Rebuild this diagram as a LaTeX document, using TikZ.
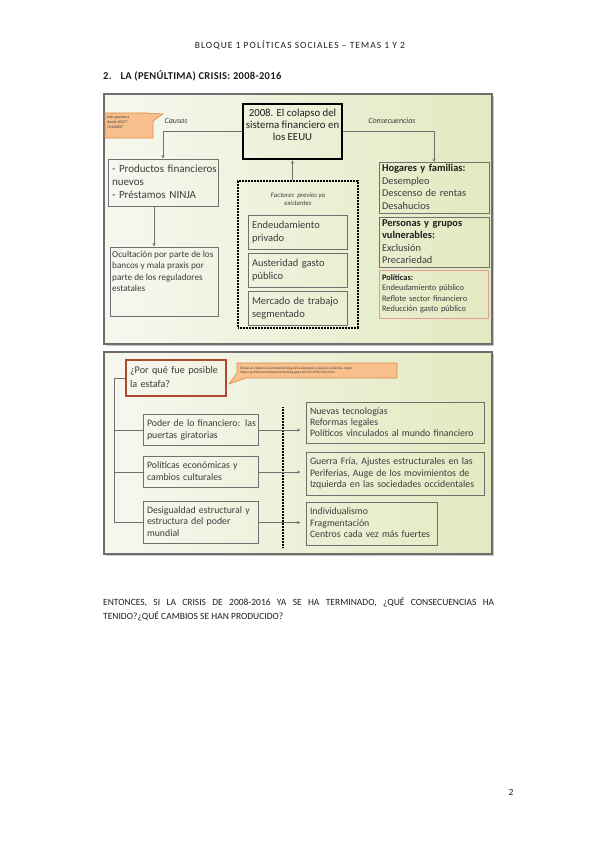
\documentclass[tikz,border=0pt]{standalone}
\usepackage{fontspec}
\setmainfont{Carlito}
\usetikzlibrary{arrows.meta,calc}
\definecolor{bgL}{HTML}{F6F8F0}
\definecolor{bgR}{HTML}{E3E9C0}
\definecolor{frameC}{HTML}{6E6E6E}
\definecolor{boxC}{HTML}{707070}
\definecolor{txt}{HTML}{3C3C3C}
\definecolor{hd}{HTML}{1E1E1E}
\definecolor{orfill}{HTML}{F7C08C}
\definecolor{ordraw}{HTML}{D98A4A}
\definecolor{redC}{HTML}{B4482F}
\definecolor{salmon}{HTML}{DE9E94}
\newcommand{\rows}[1]{\begin{tabular}{@{}l@{}}#1\end{tabular}}
\tikzset{
  tbox/.style={draw=boxC, line width=0.9pt, inner sep=4pt, align=left, text=txt},
  arr/.style={draw=boxC, line width=0.8pt, -{Stealth[length=3.5pt,width=3pt]}},
  ln/.style={draw=boxC, line width=0.8pt},
  lbl/.style={text=txt, font=\fontsize{8}{9}\selectfont\itshape},
  dotline/.style={draw=black, line width=1.5pt, dash pattern=on 0.6pt off 0.9pt},
}
\begin{document}
\begin{tikzpicture}[x=1pt,y=-1pt]
\useasboundingbox (0,0) rectangle (599,848);
\fill[white] (0,0) rectangle (599,848);

% header
\node[text=hd, font=\fontsize{9.5}{11}\selectfont\addfontfeatures{LetterSpace=11}] (hdr) at (300,45) {BLOQUE 1 POLÍTICAS SOCIALES – TEMAS 1 Y 2};
\node[anchor=base west, inner sep=0pt, text=hd, font=\fontsize{10.5}{11}\selectfont\bfseries\addfontfeatures{LetterSpace=3}] (tit) at (103,80) {2.\hspace{9pt}LA (PENÚLTIMA) CRISIS: 2008-2016};

% ===== diagram 1 =====
\fill[gray!45] (106,96) rectangle (494,346);
\shade[left color=bgL, right color=bgR] (104,94) rectangle (492,344);
\draw[frameC, line width=1.1pt] (104,94) rectangle (492,344);

% callout 1
\path[fill=orfill, draw=ordraw, line width=0.6pt] (105,113) -- (146,113) -- (163,114) -- (153,121) -- (153,138) -- (105,138) -- cycle;
\node[anchor=north west, inner sep=0pt, align=left, text=txt, font=\fontsize{4}{5}\selectfont] (c1t) at (107,116) {más \textit{gracias a}\\\textit{desde 2007}”:\\/4402847};

\node[tbox, draw=black, line width=2.4pt, minimum width=99pt, minimum height=55pt] (main) at (292.5,131.5) {};
\node[anchor=north, align=center, text=hd, inner sep=0pt, font=\fontsize{10.8}{12}\selectfont] (maint) at ([yshift=-6pt]main.north) {2008. El colapso del\\sistema financiero en\\los EEUU};

\node[lbl] (caus) at (176,121) {Causas};
\node[lbl] (cons) at (392,121) {Consecuencias};

\node[tbox, minimum width=110pt, minimum height=40pt, text width=102pt, font=\fontsize{11}{13}\selectfont] (prod) at (163,182.5) {\rows{- Productos financieros\\nuevos\\- Préstamos NINJA}};

\node[tbox, minimum width=108pt, minimum height=69pt] (ocu) at (164,281.5) {};
\node[anchor=north west, inner sep=0pt, align=left, text=txt, font=\fontsize{9.2}{11.4}\selectfont] (ocut) at (112,251) {Ocultación por parte de los\\bancos y mala praxis por\\parte de los reguladores\\estatales};

\node[draw=black, dotline, minimum width=120pt, minimum height=147pt, inner sep=0pt] (fact) at (298,254.5) {};
\node[align=center, text=txt, inner sep=0pt, font=\fontsize{6.8}{8.5}\selectfont\itshape] (factt) at (298,199) {Factores\ \ previos ya\\existentes};

\node[tbox, minimum width=99pt, minimum height=29pt, text width=91pt, font=\fontsize{10.5}{13}\selectfont] (endp) at (297.5,232.5) {\rows{Endeudamiento\\privado}};
\node[tbox, minimum width=99pt, minimum height=27pt, text width=91pt, font=\fontsize{10.5}{13}\selectfont] (aust) at (297.5,270.5) {\rows{Austeridad gasto\\público}};
\node[tbox, minimum width=99pt, minimum height=27pt, text width=91pt, font=\fontsize{10.5}{13}\selectfont] (merc) at (297.5,308.5) {\rows{Mercado de trabajo\\segmentado}};

\node[tbox, inner xsep=3pt, inner ysep=0pt, minimum width=110pt, minimum height=51pt, text width=104pt, font=\fontsize{10.4}{12.5}\selectfont] (hog) at (434,188) {\rows{\textcolor{hd}{\textbf{Hogares y familias:}}\\Desempleo\\Descenso de rentas\\Desahucios}};
\node[tbox, inner xsep=3pt, inner ysep=0pt, minimum width=110pt, minimum height=50pt, text width=104pt, font=\fontsize{10.4}{12.3}\selectfont] (pers) at (434,242.5) {\rows{\textcolor{hd}{\textbf{Personas y grupos}}\\\textcolor{hd}{\textbf{vulnerables:}}\\Exclusión\\Precariedad}};
\node[tbox, draw=salmon, inner xsep=3pt, inner ysep=0pt, minimum width=109pt, minimum height=48pt, text width=103pt, font=\fontsize{8.4}{10.4}\selectfont] (pol) at (433.5,294) {\rows{\textcolor{hd}{\textbf{Políticas:}}\\Endeudamiento público\\Reflote sector financiero\\Reducción gasto público}};

\draw[arr] (main.west) -| (prod.north);
\draw[arr] (main.east) -| (hog.north);
\draw[arr] (fact.north -| main.south) -- (main.south);
\draw[arr] ([xshift=-9pt]prod.south) -- ([xshift=-9pt]prod.south |- ocu.north);

% ===== diagram 2 =====
\fill[gray!45] (106,354) rectangle (494,556);
\shade[left color=bgL, right color=bgR] (104,352) rectangle (492,554);
\draw[frameC, line width=1.1pt] (104,352) rectangle (492,554);

\node[tbox, draw=redC, line width=1.8pt, minimum width=100pt, minimum height=30pt, text width=92pt, font=\fontsize{10.2}{14}\selectfont] (q) at (176,378) {\rows{¿Por qué fue posible\\la estafa?}};

\path[fill=orfill, draw=ordraw, line width=0.6pt] (237,363) -- (397,363) -- (397,378) -- (246,378) -- (229,384) -- (237,373) -- cycle;
\node[anchor=north west, inner sep=0pt, align=left, text=txt, font=\fontsize{3.4}{4.6}\selectfont] (c2t) at (240,366) {Échale un vistazo a la entrada del blog de la asignatura y quizá lo entiendas mejor:\\https://politicassocialesenmarcha.blogspot.com/2013/02/crisis.html};

\node[tbox, minimum width=115pt, minimum height=24pt, text width=107pt, font=\fontsize{9.8}{11.5}\selectfont] (b1) at (200.5,430) {\rows{Poder de lo financiero: las\\puertas giratorias}};
\node[tbox, minimum width=115pt, minimum height=26pt, text width=107pt, font=\fontsize{9.8}{11.5}\selectfont] (b2) at (200.5,472) {\rows{Políticas económicas y\\cambios culturales}};
\node[tbox, minimum width=115pt, minimum height=35pt, text width=107pt, font=\fontsize{9.8}{11.5}\selectfont] (b3) at (200.5,522.5) {\rows{Desigualdad estructural y\\estructura del poder\\mundial}};

\node[tbox, minimum width=178pt, minimum height=34pt, text width=170pt, font=\fontsize{9.8}{11}\selectfont] (r1) at (395,423) {\rows{Nuevas tecnologías\\Reformas legales\\Políticos vinculados al mundo financiero}};
\node[tbox, minimum width=178pt, minimum height=38pt, text width=170pt, font=\fontsize{9.8}{11.5}\selectfont] (r2) at (395,474) {\rows{Guerra Fría, Ajustes estructurales en las\\Periferias, Auge de los movimientos de\\Izquierda en las sociedades occidentales}};
\node[tbox, minimum width=131pt, minimum height=38pt, text width=123pt, font=\fontsize{9.8}{11.5}\selectfont] (r3) at (371.5,524) {\rows{Individualismo\\Fragmentación\\Centros cada vez más fuertes}};

\coordinate (dt) at (283,407);
\coordinate (db) at (283,548);
\draw[dotline] (dt) -- (db);

\draw[ln] (q.west) -| ([xshift=-28pt]b3.west) -- (b3.west);
\draw[ln] ([xshift=-28pt]b1.west) -- (b1.west);
\draw[ln] ([xshift=-28pt]b2.west) -- (b2.west);

\draw[arr, shorten >=5pt] (b1.east) -- (b1.east -| r1.west);
\draw[arr, shorten >=5pt] (b2.east) -- (b2.east -| r2.west);
\draw[arr, shorten >=5pt] (b3.east) -- (b3.east -| r3.west);

% bottom text
\node[anchor=north west, inner sep=0pt, text width=391pt, align=justify, text=hd, font=\fontsize{9.5}{14}\selectfont] (quest) at (103,597) {ENTONCES, SI LA CRISIS DE 2008-2016 YA SE HA TERMINADO, ¿QUÉ CONSECUENCIAS HA\linebreak TENIDO?¿QUÉ CAMBIOS SE HAN PRODUCIDO?};

\node[text=hd, font=\fontsize{9.5}{11}\selectfont] (pg) at (511,792) {2};
\end{tikzpicture}
\end{document}
